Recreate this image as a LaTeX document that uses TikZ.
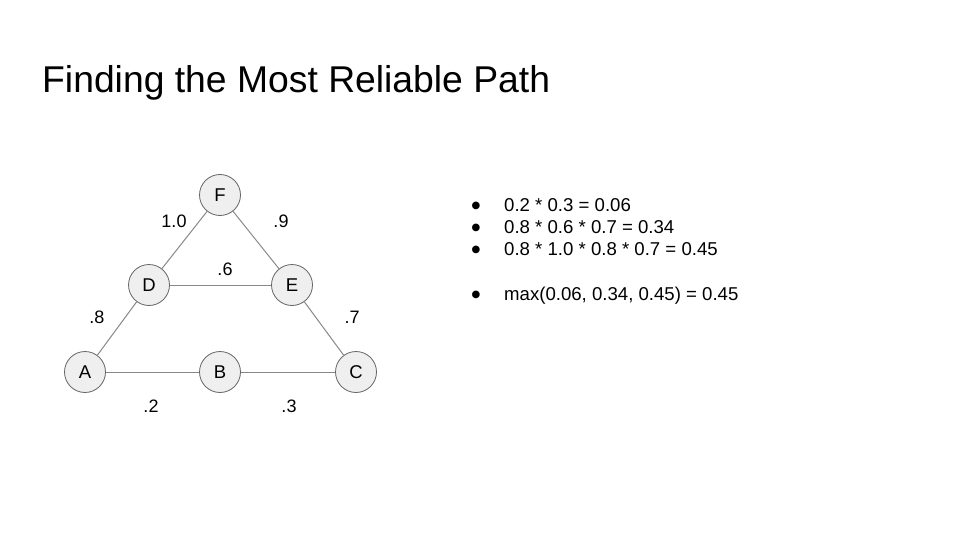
\documentclass[tikz,border=0pt]{standalone}
\usepackage{fontspec}
\setmainfont{Liberation Sans}
\newfontfamily\symfont{DejaVu Sans}
\definecolor{nodefill}{HTML}{EFEFEF}
\definecolor{nodeline}{HTML}{666666}
\definecolor{edgeline}{HTML}{888888}
\begin{document}
\begin{tikzpicture}[x=1pt, y=-1pt,
  vertex/.style={circle, draw=nodeline, fill=nodefill, line width=0.8pt, minimum size=41pt, inner sep=0pt, font=\fontsize{18.5}{22}\selectfont},
  edge/.style={draw=edgeline, line width=1pt},
  weight/.style={font=\fontsize{18}{21}\selectfont},
  bullet/.style={anchor=center, inner sep=0pt, font=\symfont\fontsize{10}{12}\selectfont},
  item/.style={anchor=base west, inner sep=0pt, font=\fontsize{18.6}{22}\selectfont}]
% Page size
\useasboundingbox[fill=white] (0,0) rectangle (960,540);

% Title
\node[anchor=base west, inner sep=0pt, font=\fontsize{37.3}{44}\selectfont] (title) at (42,93) {Finding the Most Reliable Path};

% Vertices
\node[vertex] (A) at (85,372) {A};
\node[vertex] (B) at (220,372) {B};
\node[vertex] (C) at (356,372) {C};
\node[vertex] (D) at (149,285) {D};
\node[vertex] (E) at (292,285) {E};
\node[vertex] (F) at (220,195) {F};

% Edges
\begin{scope}[on background layer/.try]
\draw[edge] (A) -- (B);
\draw[edge] (B) -- (C);
\draw[edge] (A) -- (D);
\draw[edge] (D) -- (E);
\draw[edge] (D) -- (F);
\draw[edge] (F) -- (E);
\draw[edge] (E) -- (C);
\end{scope}

% Weights
\node[weight] (wDF) at (174,221) {1.0};
\node[weight] (wFE) at (281,221) {.9};
\node[weight] (wDE) at (225,269) {.6};
\node[weight] (wAD) at (97,317) {.8};
\node[weight] (wEC) at (352,317) {.7};
\node[weight] (wAB) at (151,406) {.2};
\node[weight] (wBC) at (289,406) {.3};

% Path products
\node[bullet] (b1) at (476,205.5) {●};
\node[item] (i1) at (504,211) {0.2 * 0.3 = 0.06};
\node[bullet] (b2) at (476,227.5) {●};
\node[item] (i2) at (504,233) {0.8 * 0.6 * 0.7 = 0.34};
\node[bullet] (b3) at (476,249.5) {●};
\node[item] (i3) at (504,255) {0.8 * 1.0 * 0.8 * 0.7 = 0.45};
\node[bullet] (b4) at (476,294.5) {●};
\node[item] (i4) at (504,300) {max(0.06, 0.34, 0.45) = 0.45};
\end{tikzpicture}
\end{document}
